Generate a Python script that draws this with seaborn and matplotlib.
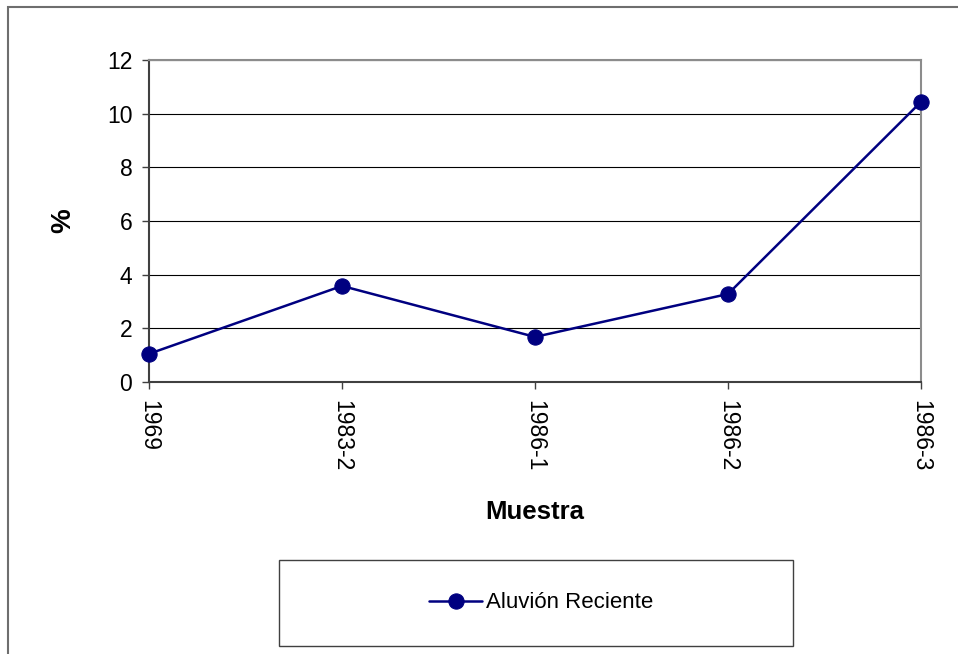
import matplotlib
matplotlib.use("Agg")
import matplotlib.pyplot as plt
from matplotlib.patches import Rectangle
import seaborn as sns
import pandas as pd

muestras = ["1969", "1983-2", "1986-1", "1986-2", "1986-3"]
valores = [1.05, 3.58, 1.68, 3.28, 10.44]
serie = "Aluvión Reciente"

df = pd.DataFrame({"Muestra": muestras, "valor": valores, "serie": [serie] * len(muestras)})

sns.set_style("white")
plt.rcParams["font.family"] = ["Liberation Sans", "DejaVu Sans"]
plt.rcParams["text.color"] = "black"
plt.rcParams["axes.labelcolor"] = "black"
plt.rcParams["xtick.color"] = "black"
plt.rcParams["ytick.color"] = "black"

fig = plt.figure(figsize=(9.58, 6.54), dpi=100)
ax = fig.add_axes([149 / 958, 1 - 382 / 654, (921 - 149) / 958, (382 - 60) / 654])

sns.lineplot(data=df, x="Muestra", y="valor", hue="serie", palette=["#000080"],
             marker="o", markersize=11, markeredgecolor="#000080", linewidth=1.8,
             sort=False, ax=ax, legend=True)
for ln in ax.get_lines():
    ln.set_clip_on(False)
    ln.set_zorder(5)

ax.set_xlim(0, len(muestras) - 1)
ax.set_ylim(0, 12)
ax.set_yticks(range(0, 13, 2))
ax.yaxis.grid(True, color="black", linewidth=0.8)
ax.xaxis.grid(False)
ax.set_axisbelow(True)

ax.tick_params(axis="y", which="both", left=True, length=5, width=1, color="#404040",
               labelcolor="black", labelsize=16.5, pad=7)
ax.tick_params(axis="x", which="both", bottom=True, length=5, width=1, color="#404040",
               labelcolor="black", labelsize=16.5, pad=8)
for lbl in ax.get_xticklabels():
    lbl.set_rotation(-90)
    lbl.set_va("top")
    lbl.set_ha("center")

for side in ["top", "right"]:
    ax.spines[side].set_visible(True)
    ax.spines[side].set_color("#8c8c8c")
    ax.spines[side].set_linewidth(1.5)
for side in ["left", "bottom"]:
    ax.spines[side].set_color("#404040")
    ax.spines[side].set_linewidth(1.5)

ax.set_xlabel("Muestra", fontsize=18.5, fontweight="bold", color="black")
ax.set_ylabel("%", fontsize=20, fontweight="bold", color="black")
ax.xaxis.set_label_coords(0.5, -0.366)
ax.yaxis.set_label_coords(-0.094, 0.5)

handles, labels = ax.get_legend_handles_labels()
ax.get_legend().remove()
fig.legend(handles, labels, loc="center",
           bbox_to_anchor=((279 + 793) / 2 / 958 + 5 / 958, 1 - (560 + 646) / 2 / 654),
           frameon=False, fontsize=16, handlelength=2.4, handletextpad=0.15,
           labelcolor="black")

# legend box
fig.patches.append(Rectangle((279 / 958, 1 - 646 / 654), (793 - 279) / 958, (646 - 560) / 654,
                             transform=fig.transFigure, fill=False, edgecolor="#404040",
                             linewidth=1.0, figure=fig))
# outer chart border (extends beyond right and bottom)
fig.patches.append(Rectangle((8 / 958, -0.1), 1.2, 1.1 - 7 / 654,
                             transform=fig.transFigure, fill=False, edgecolor="#6e6e6e",
                             linewidth=1.5, figure=fig))

fig.savefig("out.png", dpi=100)
